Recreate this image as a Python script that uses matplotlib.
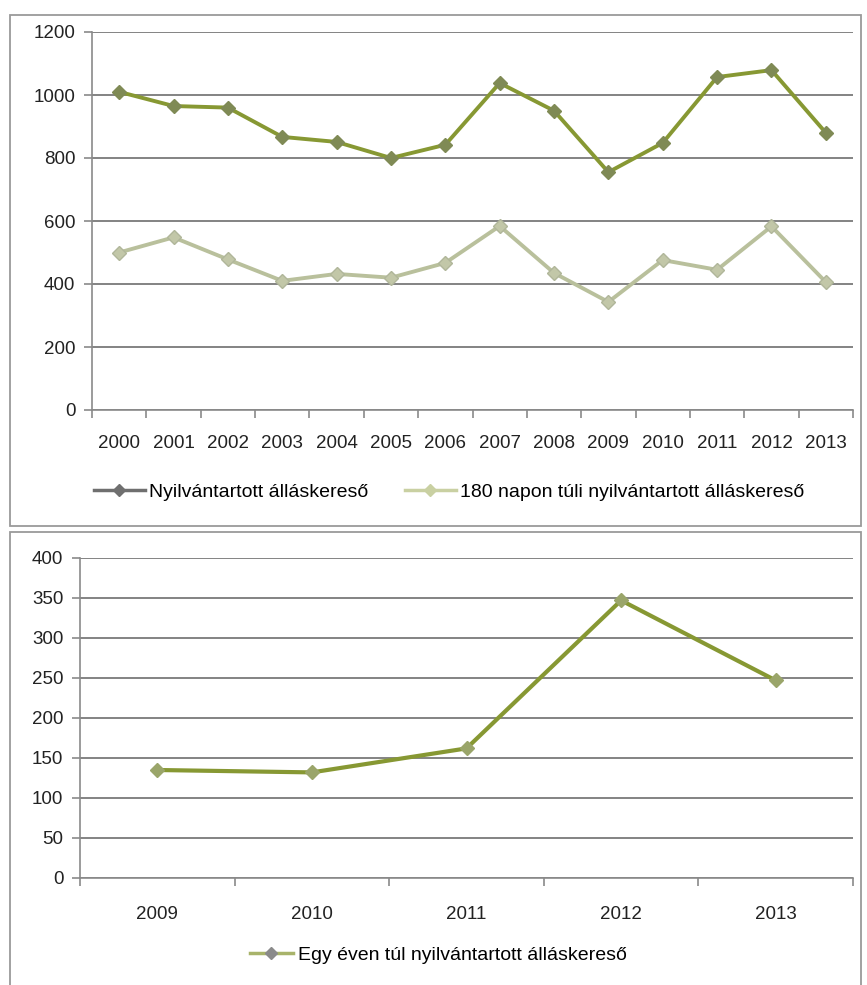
import matplotlib
matplotlib.use("Agg")
import matplotlib.pyplot as plt
from matplotlib.lines import Line2D
from matplotlib.patches import Rectangle
import numpy as np

plt.rcParams['font.family'] = ['Liberation Sans', 'DejaVu Sans']

years_top = ['2000', '2001', '2002', '2003', '2004', '2005', '2006',
             '2007', '2008', '2009', '2010', '2011', '2012', '2013']
registered = [1010, 965, 960, 867, 851, 800, 842, 1038, 950, 755, 848, 1057, 1079, 880]
over_180_days = [500, 548, 478, 410, 432, 420, 467, 584, 435, 343, 476, 445, 583, 406]

years_bottom = ['2009', '2010', '2011', '2012', '2013']
over_one_year = [135, 132, 162, 347, 247]

label_reg = 'Nyilvántartott álláskereső'
label_180 = '180 napon túli nyilvántartott álláskereső'
label_year = 'Egy éven túl nyilvántartott álláskereső'

W, H = 867, 985
fig = plt.figure(figsize=(W / 100, H / 100), dpi=100)
fig.patch.set_facecolor('white')

def fr(x0, y0, x1, y1):
    return [x0 / W, 1 - y1 / H, (x1 - x0) / W, (y1 - y0) / H]

# panel borders
for (x0, y0, x1, y1) in [(10, 15, 861, 526), (10, 532, 861, 990)]:
    fig.patches.append(Rectangle((x0 / W, 1 - y1 / H), (x1 - x0) / W, (y1 - y0) / H,
                                 transform=fig.transFigure, fill=False,
                                 edgecolor='#9a9a9a', linewidth=1.3))

grid_c = '#6e6e6e'
olive = '#879833'
pale = '#b9c09c'

def style_axes(ax, n, ymax, ystep, fs, xpad):
    ax.set_xlim(-0.5, n - 0.5)
    ax.set_ylim(0, ymax)
    ax.set_yticks(np.arange(0, ymax + 1, ystep))
    ax.yaxis.grid(True, color=grid_c, linewidth=1.2)
    ax.set_axisbelow(True)
    for s in ['top', 'right']:
        ax.spines[s].set_visible(False)
    for s in ['left', 'bottom']:
        ax.spines[s].set_color('#8a8a8a')
        ax.spines[s].set_linewidth(1.2)
    ax.set_xticks(np.arange(n))
    ax.set_xticks(np.arange(-0.5, n, 1.0), minor=True)
    ax.tick_params(axis='x', which='major', length=0, pad=xpad, labelsize=fs, labelcolor='#222222')
    ax.tick_params(axis='x', which='minor', length=6, color='#8a8a8a', width=1.2)
    ax.tick_params(axis='y', length=6, color='#8a8a8a', width=1.2, labelsize=fs, pad=6,
                   labelcolor='#222222')

# top chart
ax1 = fig.add_axes(fr(92, 32, 853, 410))
x1 = np.arange(len(years_top))
ax1.plot(x1, over_180_days, color=pale, linewidth=2.8, marker='D', markersize=7,
         markerfacecolor='#c2c7a8', markeredgecolor='#b0b69a')
ax1.plot(x1, registered, color=olive, linewidth=2.8, marker='D', markersize=7,
         markerfacecolor='#7f8a55', markeredgecolor='#7f8a55')
style_axes(ax1, len(years_top), 1200, 200, 13.5, 18)
ax1.set_xticklabels(years_top)

h_reg = Line2D([0], [0], color='#6f6f6f', linewidth=2.5, marker='D', markersize=6)
h_180 = Line2D([0], [0], color='#c9d0a2', linewidth=2.5, marker='D', markersize=6)
leg_kw = dict(frameon=False, fontsize=14, handlelength=2.6, handletextpad=0.25,
              borderpad=0, borderaxespad=0)
fig.legend([h_reg], [label_reg], loc='center left', bbox_to_anchor=(94 / W, 1 - 492 / H), **leg_kw)
fig.legend([h_180], [label_180], loc='center left', bbox_to_anchor=(405 / W, 1 - 492 / H), **leg_kw)

# bottom chart
ax2 = fig.add_axes(fr(80, 558, 853, 878))
x2 = np.arange(len(years_bottom))
ax2.plot(x2, over_one_year, color=olive, linewidth=3.0, marker='D', markersize=7,
         markerfacecolor='#9aa56a', markeredgecolor='#9aa56a')
style_axes(ax2, len(years_bottom), 400, 50, 13.5, 20)
ax2.set_xticklabels(years_bottom)

h_year = Line2D([0], [0], color='#a8b36a', linewidth=2.5, marker='D', markersize=6,
                markerfacecolor='#8a8a8a', markeredgecolor='#8a8a8a')
leg_kw2 = dict(leg_kw, handlelength=2.2)
fig.legend([h_year], [label_year], loc='center left', bbox_to_anchor=(250 / W, 1 - 955 / H), **leg_kw2)

fig.savefig('out.png', dpi=100, facecolor='white')
